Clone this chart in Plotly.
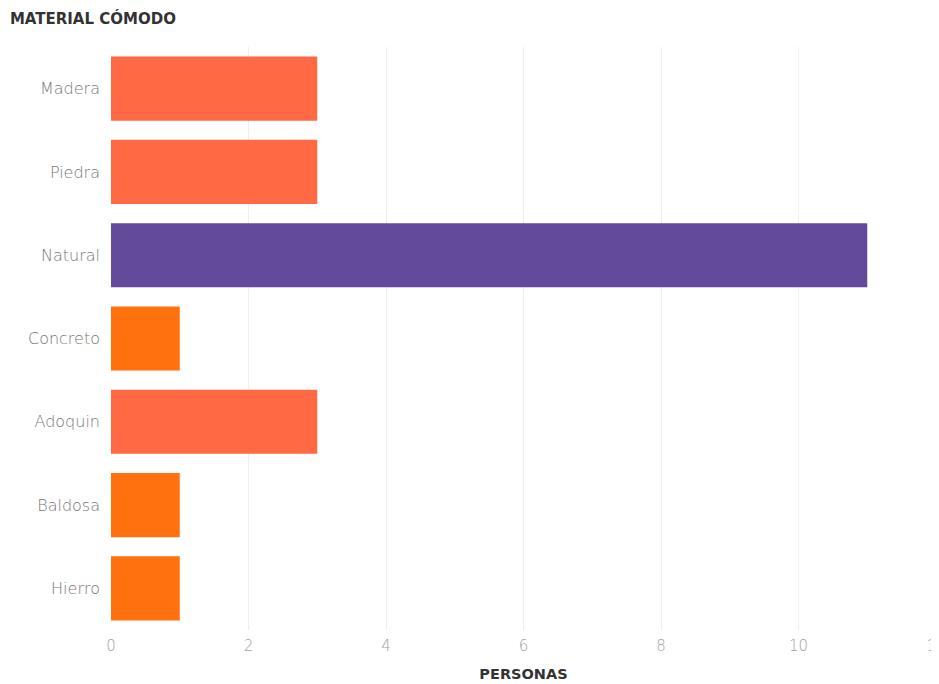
import plotly.graph_objects as go

categories = ["Madera", "Piedra", "Natural", "Concreto", "Adoquin", "Baldosa", "Hierro"]
values = [3, 3, 11, 1, 3, 1, 1]
colors = ["#FF6A45", "#FF6A45", "#634A9A", "#FF710F", "#FF6A45", "#FF710F", "#FF710F"]
x_ticks = [0, 2, 4, 6, 8, 10, 12]

fig = go.Figure(go.Bar(
    x=values, y=categories, orientation="h",
    marker=dict(color=colors, line=dict(width=0)),
    width=0.77,
))

fig.update_layout(
    width=939, height=684,
    margin=dict(l=103, r=11, t=39, b=62),
    paper_bgcolor="white", plot_bgcolor="white",
    showlegend=False,
    font=dict(family="DejaVu Sans", color="#777777"),
    title=dict(text="<b>MATERIAL CÓMODO</b>", x=0.002, xanchor="left", y=0.985, yanchor="middle",
               font=dict(size=15, color="#333333", family="DejaVu Sans")),
    xaxis=dict(range=[0, 12], tickvals=x_ticks, showgrid=True, gridcolor="#EEEEEE", gridwidth=1,
               zeroline=False, showline=False, ticks="", automargin=False,
               ticklabeloverflow="allow", ticklabelstandoff=5,
               tickfont=dict(size=15, color="#A0A0A0", family="DejaVu Sans", weight=200),
               title=dict(text="<b>PERSONAS</b>", font=dict(size=14.5, color="#333333", family="DejaVu Sans"),
                          standoff=14)),
    yaxis=dict(categoryorder="array", categoryarray=categories, autorange="reversed",
               showgrid=False, zeroline=False, showline=False, ticks="", automargin=False,
               tickfont=dict(size=16, color="#777777", family="DejaVu Sans", weight=200),
               ticklabelstandoff=10),
)

fig.write_html("out.html")
